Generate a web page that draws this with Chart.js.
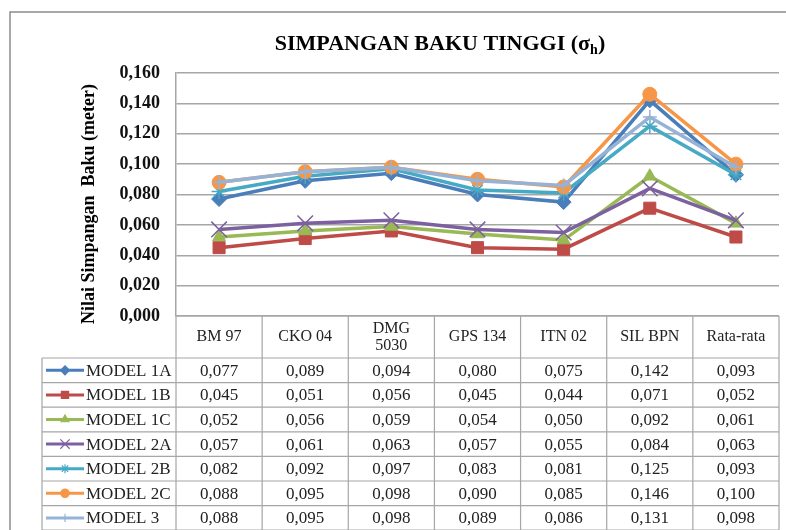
<!DOCTYPE html>
<html>
<head>
<meta charset="utf-8">
<script src="https://cdn.jsdelivr.net/npm/chart.js@4.4.0/dist/chart.umd.min.js"></script>
<style>
  body { margin: 0; background: #fff; }
  canvas { display: block; }
</style>
</head>
<body>
<canvas id="chart" width="786" height="530"></canvas>
<script>
// Data (nilai dibaca dari tabel)
const categories = ['BM 97', 'CKO 04', ['DMG', '5030'], 'GPS 134', 'ITN 02', 'SIL BPN', 'Rata-rata'];
const seriesNames = ['MODEL 1A', 'MODEL 1B', 'MODEL 1C', 'MODEL 2A', 'MODEL 2B', 'MODEL 2C', 'MODEL 3'];
const model1A = [0.077, 0.089, 0.094, 0.080, 0.075, 0.142, 0.093];
const model1B = [0.045, 0.051, 0.056, 0.045, 0.044, 0.071, 0.052];
const model1C = [0.052, 0.056, 0.059, 0.054, 0.050, 0.092, 0.061];
const model2A = [0.057, 0.061, 0.063, 0.057, 0.055, 0.084, 0.063];
const model2B = [0.082, 0.092, 0.097, 0.083, 0.081, 0.125, 0.093];
const model2C = [0.088, 0.095, 0.098, 0.090, 0.085, 0.146, 0.100];
const model3  = [0.088, 0.095, 0.098, 0.089, 0.086, 0.131, 0.098];
const yMin = 0, yMax = 0.16, yStep = 0.02;

const seriesValues = [model1A, model1B, model1C, model2A, model2B, model2C, model3];
const colors = ['#4A7EBB', '#BE4B48', '#98B954', '#7D60A0', '#46AAC5', '#F79646', '#95B3D7'];
const markers = ['rectRot', 'rect', 'triangle', 'crossRot', 'star', 'circle', 'cross'];
const markerSize = [7.5, 8.5, 7.5, 11, 7.5, 7, 7];

const serif = '"Liberation Serif", "Times New Roman", serif';
const fmt = v => v.toFixed(3).replace('.', ',');

const datasets = seriesNames.map((name, i) => ({
    label: name,
    data: seriesValues[i],
    borderColor: colors[i],
    backgroundColor: colors[i],
    borderWidth: 3.5,
    pointStyle: markers[i],
    pointRadius: markerSize[i],
    pointBorderWidth: (markers[i] === 'crossRot' || markers[i] === 'star' || markers[i] === 'cross') ? 1.5 : 1,
    pointBorderColor: colors[i],
    pointBackgroundColor: colors[i],
    tension: 0,
    order: seriesNames.length - i // seri terakhir di atas (seperti Excel)
}));

// Judul, label sumbu Y, bingkai dan tabel data
const extrasPlugin = {
    id: 'extras',
    beforeDraw(chart) {
        const ctx = chart.ctx;
        ctx.save();
        ctx.strokeStyle = '#8c8c8c';
        ctx.lineWidth = 1.5;
        ctx.strokeRect(10, 12, 860, 600);
        ctx.restore();
    },
    afterDraw(chart) {
        const ctx = chart.ctx;
        const area = chart.chartArea;
        const xs = chart.scales.x;
        ctx.save();

        // Judul dengan subskrip
        ctx.fillStyle = '#000';
        ctx.textBaseline = 'alphabetic';
        const mainFont = 'bold 22px ' + serif;
        const subFont = 'bold 14px ' + serif;
        const t1 = 'SIMPANGAN BAKU TINGGI (σ', t2 = 'h', t3 = ')';
        ctx.font = mainFont; const w1 = ctx.measureText(t1).width; const w3 = ctx.measureText(t3).width;
        ctx.font = subFont; const w2 = ctx.measureText(t2).width;
        let tx = 440 - (w1 + w2 + w3) / 2;
        const ty = 50;
        ctx.font = mainFont; ctx.textAlign = 'left';
        ctx.fillText(t1, tx, ty); tx += w1;
        ctx.font = subFont; ctx.fillText(t2, tx, ty + 4); tx += w2;
        ctx.font = mainFont; ctx.fillText(t3, tx, ty);

        // Label sumbu Y
        ctx.save();
        ctx.translate(89, 204);
        ctx.rotate(-Math.PI / 2);
        ctx.font = 'bold 18px ' + serif;
        ctx.textAlign = 'center';
        ctx.textBaseline = 'middle';
        ctx.fillText('Nilai Simpangan  Baku (meter)', 0, 0);
        ctx.restore();

        // Tabel data
        const n = categories.length;
        const colW = (area.right - area.left) / n;
        const headTop = area.bottom;
        const headBottom = headTop + 42;
        const rowH = 24.6;
        const tableBottom = headBottom + rowH * seriesNames.length;
        const legendLeft = 42;

        ctx.strokeStyle = '#a6a6a6';
        ctx.lineWidth = 1.2;
        ctx.beginPath();
        // garis horizontal
        ctx.moveTo(area.left, headTop); ctx.lineTo(area.right, headTop);
        for (let r = 0; r <= seriesNames.length; r++) {
            const y = headBottom + r * rowH;
            ctx.moveTo(legendLeft, y); ctx.lineTo(area.right, y);
        }
        // garis vertikal
        for (let c = 0; c <= n; c++) {
            const xx = c === n ? area.right : xs.getPixelForValue(c) - colW / 2;
            ctx.moveTo(xx, headTop); ctx.lineTo(xx, tableBottom);
        }
        ctx.moveTo(legendLeft, headBottom); ctx.lineTo(legendLeft, tableBottom);
        ctx.stroke();

        // header kategori
        ctx.fillStyle = '#222';
        ctx.font = '16px ' + serif;
        ctx.textAlign = 'center';
        ctx.textBaseline = 'middle';
        categories.forEach((cat, c) => {
            const x = xs.getPixelForValue(c);
            const lines = Array.isArray(cat) ? cat : [cat];
            const mid = (headTop + headBottom) / 2;
            lines.forEach((ln, k) => {
                ctx.fillText(ln, x, mid + (k - (lines.length - 1) / 2) * 17);
            });
        });

        // baris nilai dan kunci legenda
        seriesNames.forEach((name, r) => {
            const yc = headBottom + r * rowH + rowH / 2;
            ctx.fillStyle = '#222';
            ctx.font = '17px ' + serif;
            ctx.textAlign = 'center';
            seriesValues[r].forEach((v, c) => {
                ctx.fillText(fmt(v), xs.getPixelForValue(c), yc + 1);
            });
            // kunci
            ctx.strokeStyle = colors[r];
            ctx.lineWidth = 3;
            ctx.beginPath();
            ctx.moveTo(46, yc); ctx.lineTo(84, yc);
            ctx.stroke();
            ctx.fillStyle = colors[r];
            ctx.lineWidth = 1.2;
            Chart.helpers.drawPoint(ctx, { pointStyle: markers[r], radius: markerSize[r] * 0.6, rotation: 0, borderWidth: 1.2 }, 65, yc);
            ctx.fillStyle = '#222';
            ctx.textAlign = 'left';
            ctx.font = '17px ' + serif;
            ctx.fillText(name, 86, yc + 1);
        });

        ctx.restore();
    }
};

new Chart(document.getElementById('chart'), {
    type: 'line',
    data: { labels: categories, datasets: datasets },
    options: {
        responsive: false,
        animation: false,
        devicePixelRatio: 1,
        layout: { autoPadding: false, padding: { top: 73, right: 7, bottom: 214, left: 0 } },
        plugins: {
            legend: { display: false },
            title: { display: false },
            tooltip: { enabled: false }
        },
        scales: {
            x: {
                type: 'category',
                offset: true,
                display: false
            },
            y: {
                min: yMin,
                max: yMax,
                afterFit(scale) { scale.width = 176; },
                ticks: {
                    stepSize: yStep,
                    padding: 16,
                    color: '#111',
                    font: { family: serif, size: 18, weight: 'bold' },
                    callback: v => fmt(v)
                },
                grid: { color: '#a6a6a6', lineWidth: 1.5, drawTicks: false },
                border: { display: true, color: '#a6a6a6', width: 1.5 }
            }
        }
    },
    plugins: [extrasPlugin]
});
</script>
</body>
</html>
